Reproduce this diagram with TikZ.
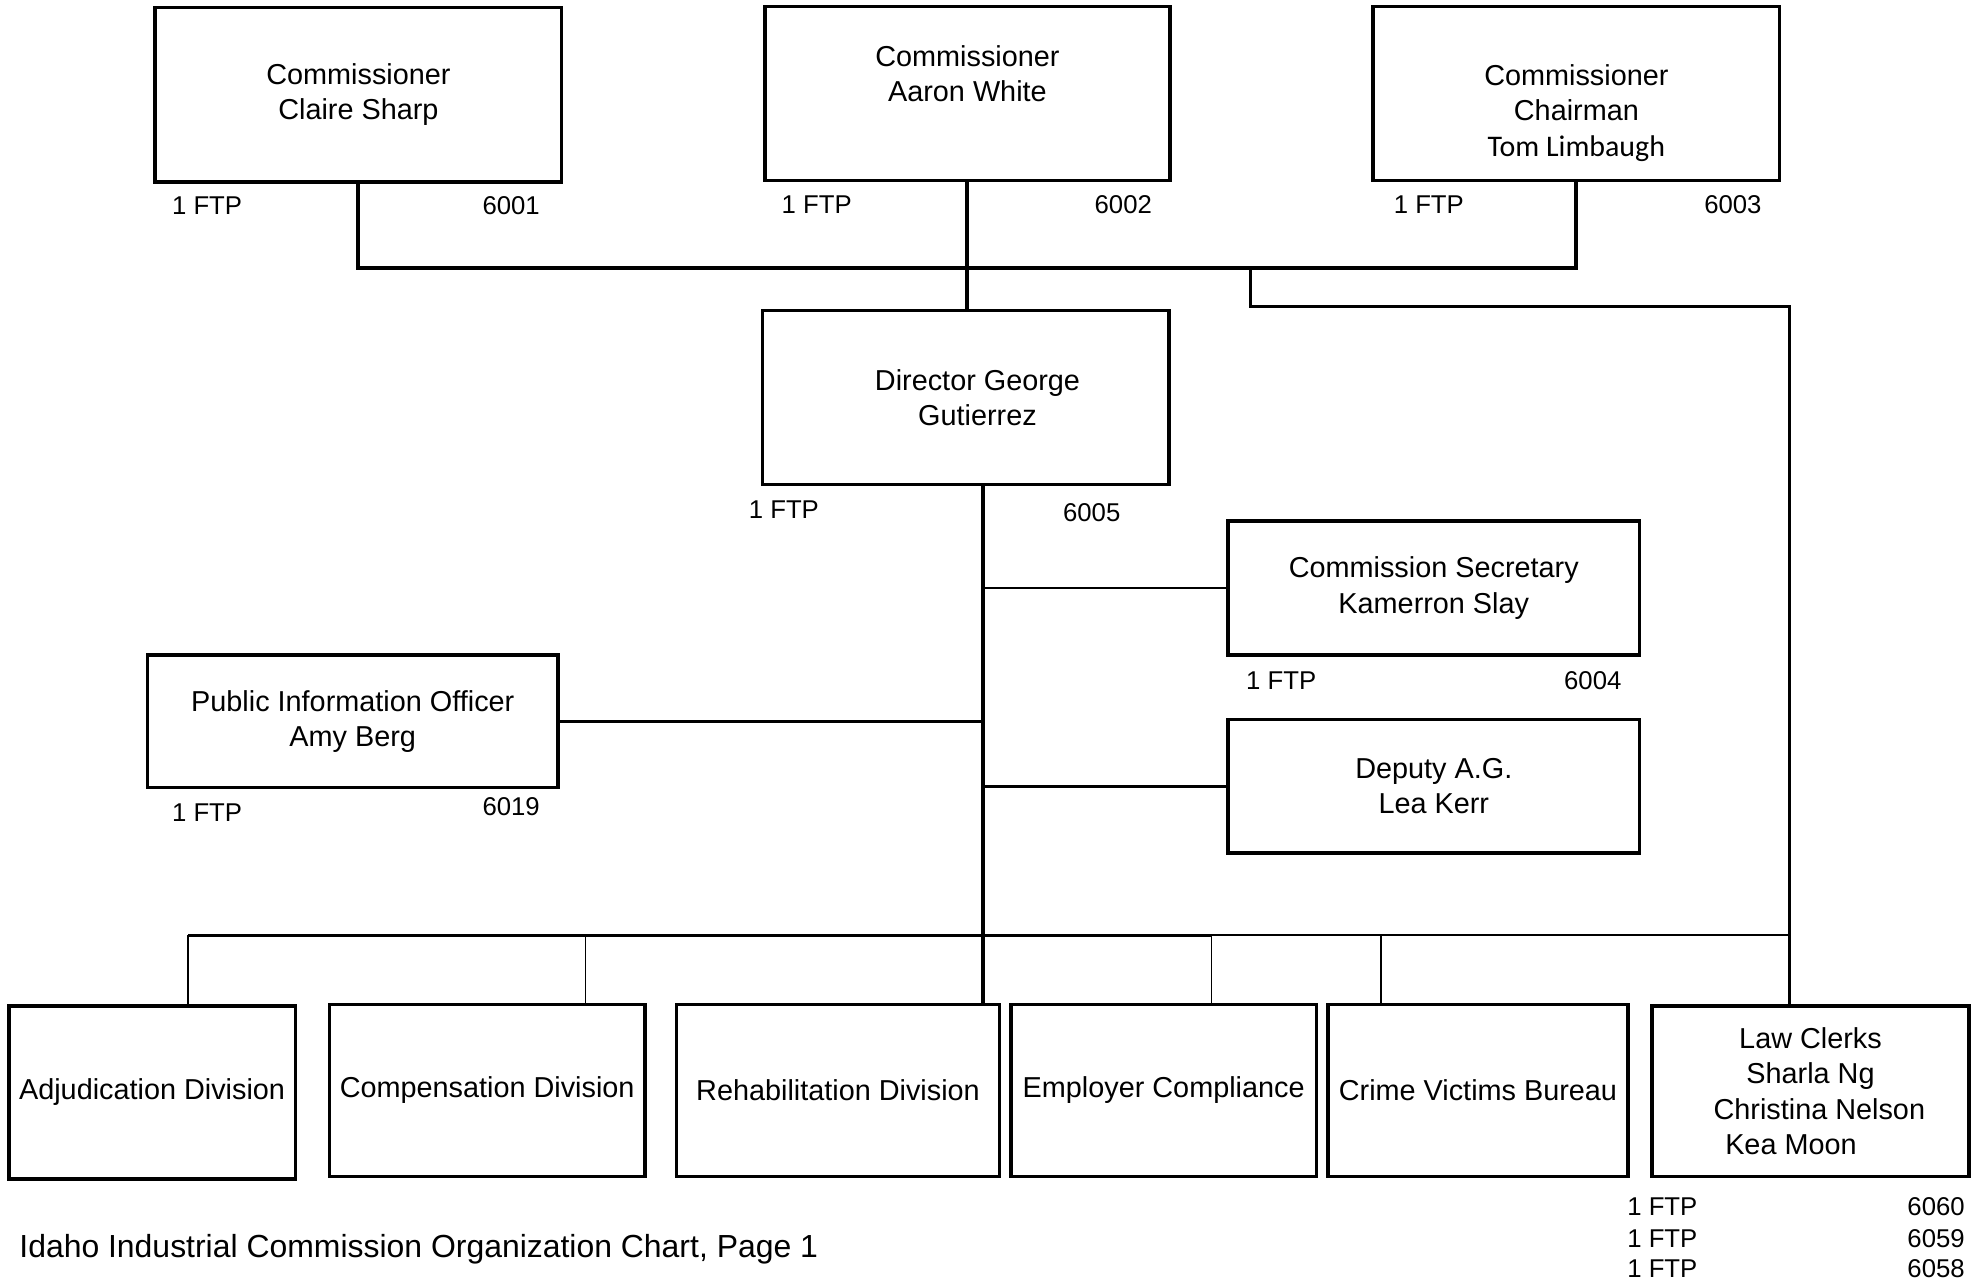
\documentclass[tikz,border=0pt]{standalone}
\usepackage{fontspec}
\setmainfont{Liberation Sans}
\newfontfamily\calibri{Carlito}
\usetikzlibrary{calc, positioning}
\newcommand{\boxfont}{\fontsize{13}{16}\selectfont}
\newcommand{\ftpfont}{\fontsize{11.6}{14}\selectfont}
\newcommand{\titlefont}{\fontsize{14.4}{17}\selectfont}
\tikzset{
	orgbox/.style={draw, line width=1.6pt, outer sep=0pt, inner sep=0pt, align=center, font=\boxfont},
	boxsize/.style 2 args={minimum width=#1*0.02cm, minimum height=#2*0.02cm},
	ftptext/.style={font=\ftpfont, inner sep=0pt}
}
\tikzset{
	mainline/.style={line width=1.8pt},
	midline/.style={line width=1.2pt},
	thinline/.style={line width=0.7pt}
}

\begin{document}
\begin{tikzpicture}[x=0.02cm, y=-0.02cm]
  \useasboundingbox (0,0) rectangle (1568,1014);
  % commissioners
  \node[orgbox, boxsize={322}{138}] (claire) at (284,75) {Commissioner\\Claire Sharp};
  \node[orgbox, boxsize={321}{138}] (aaron) at (766.5,74) {Commissioner\\Aaron White\\[-2.8pt]\strut};
  \node[orgbox, boxsize={322}{138}] (tom) at (1249,74) {\strut\\Commissioner\\Chairman\\{\calibri\fontsize{13.5}{16.5}\selectfont Tom Limbaugh}};
  % director and staff
  \node[orgbox, boxsize={322}{138}] (director) at (765,315) {\hspace*{0.38cm}Director George\\\hspace*{0.38cm}Gutierrez};
  \node[orgbox, boxsize={326}{106}] (secretary) at (1136,466) {Commission Secretary\\Kamerron Slay};
  \node[orgbox, boxsize={326}{106}] (deputy) at (1136,623) {Deputy A.G.\\Lea Kerr};
  \node[orgbox, boxsize={325}{105}] (pio) at (279.5,571.5) {Public Information Officer\\Amy Berg};
  % divisions
  \node[orgbox, boxsize={227}{137}] (adjudication) at (120.5,865.5) {Adjudication Division};
  \node[orgbox, boxsize={250}{136}] (compensation) at (386,864) {Compensation Division};
  \node[orgbox, boxsize={256}{136}] (rehab) at (664,864) {Rehabilitation Division};
  \node[orgbox, boxsize={242}{136}] (employer) at (922,864) {Employer Compliance};
  \node[orgbox, boxsize={238}{136}] (crime) at (1171,864) {Crime Victims Bureau};
  \node[orgbox, boxsize={251}{135}] (clerks) at (1434.5,864.5) {Law Clerks\\Sharla Ng\\\hspace*{0.28cm}Christina Nelson\\Kea Moon\hspace*{0.62cm}};
  % position counts and numbers
  \foreach \n/\dl/\dyl/\num/\dr/\dyr in {claire/13/19/6001/-17/19, aaron/13/19/6002/-14/19,
      tom/16/19/6003/-14/19, director/-11/20/6005/-38/22, secretary/14/20/6004/-14/20, pio/19/20/6019/-14/15} {
    \node[ftptext, anchor=west] (\n-ftp) at ($(\n.south west)+(\dl,\dyl)$) {1 FTP};
    \node[ftptext, anchor=east] (\n-num) at ($(\n.south east)+(\dr,\dyr)$) {\num};
  }
  \foreach \dy/\num [count=\i] in {24/6060, 49/6059, 73/6058} {
    \node[ftptext, anchor=west] (clerks-ftp\i) at ($(clerks.south west)+(-20,\dy)$) {1 FTP};
    \node[ftptext, anchor=east] (clerks-num\i) at ($(clerks.south east)+(-3,\dy)$) {\num};
  }
  % connectors
  \coordinate (topbus) at (0,212);
  \coordinate (split) at (991,212);
  \coordinate (clerkturn) at (1418,243);
  \coordinate (spine) at (779,0);
  \coordinate (bus) at (0,741);
  \draw[mainline] (claire.south) |- (tom.south |- topbus) -- (tom.south);
  \draw[mainline] (aaron.south) -- (aaron.south |- director.north);
  \draw[midline] (split) |- (clerkturn) -- (clerkturn |- clerks.north);
  \draw[mainline] (spine |- director.south) -- (spine |- rehab.north);
  \draw[thinline] (secretary.west) -- (secretary.west -| spine);
  \draw[midline] (deputy.west) -- (deputy.west -| spine);
  \draw[midline] (pio.east) -- (pio.east -| spine);
  \draw[midline] (149,0 |- bus) -- (spine |- bus);
  \draw[line width=1.4pt] (spine |- bus) -- (960,0 |- bus);
  \draw[thinline] (960,0 |- bus) -- (clerkturn |- bus);
  \foreach \n/\x/\w in {adjudication/149/1pt, compensation/464/0.7pt, employer/960/0.7pt, crime/1094/1pt}
    \draw[line width=\w] (\x,0 |- bus) -- (\x,0 |- \n.north);
  % caption
  \node[anchor=west, inner sep=0pt, font=\titlefont] (title) at (15,990) {Idaho Industrial Commission Organization Chart, Page 1};
\end{tikzpicture}
\end{document}
